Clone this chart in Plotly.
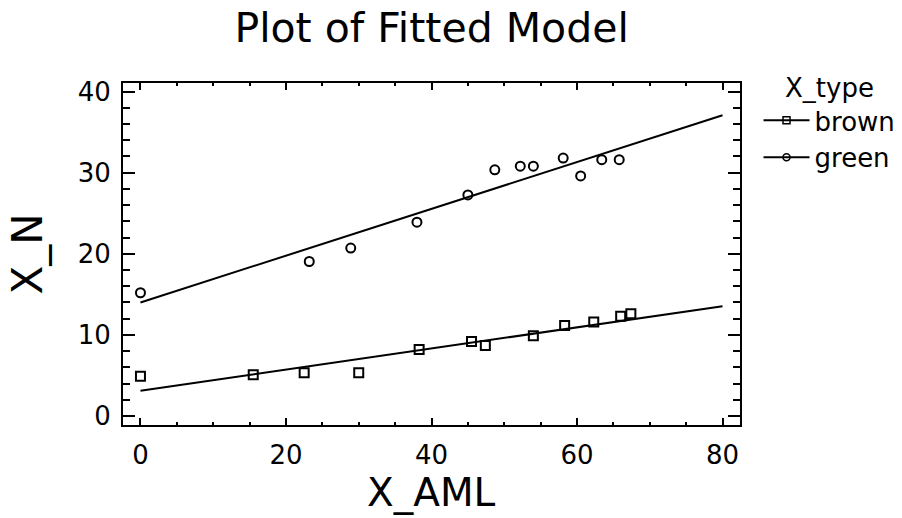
import plotly.graph_objects as go

# Data
aml_brown = [0, 15.5, 22.5, 30.0, 38.3, 45.5, 47.4, 54.0, 58.3, 62.3, 66.0, 67.4]
n_brown = [4.9, 5.1, 5.35, 5.35, 8.2, 9.2, 8.7, 9.9, 11.15, 11.6, 12.3, 12.6]
aml_green = [0, 23.2, 28.9, 38.0, 45.0, 48.7, 52.2, 54.0, 58.1, 60.5, 63.4, 65.8]
n_green = [15.2, 19.05, 20.7, 23.9, 27.25, 30.35, 30.8, 30.8, 31.8, 29.6, 31.6, 31.6]
fit_x = [0, 80]
fit_brown = [3.12, 13.54]
fit_green = [14.0, 37.07]
x_ticks = [0, 20, 40, 60, 80]
y_ticks = [0, 10, 20, 30, 40]

FONT = "DejaVu Sans, Liberation Sans, sans-serif"
BLACK = "black"

fig = go.Figure()
fig.add_trace(go.Scatter(x=fit_x, y=fit_brown, mode="lines", line=dict(color=BLACK, width=2),
                         showlegend=False, hoverinfo="skip"))
fig.add_trace(go.Scatter(x=fit_x, y=fit_green, mode="lines", line=dict(color=BLACK, width=2),
                         showlegend=False, hoverinfo="skip"))
fig.add_trace(go.Scatter(x=aml_brown, y=n_brown, mode="markers",
                         marker=dict(symbol="square-open", size=9, color=BLACK, line=dict(width=2, color=BLACK)),
                         showlegend=False))
fig.add_trace(go.Scatter(x=aml_green, y=n_green, mode="markers",
                         marker=dict(symbol="circle-open", size=9, color=BLACK, line=dict(width=2, color=BLACK)),
                         showlegend=False))
# legend entries (line + marker)
fig.add_trace(go.Scatter(x=[None], y=[None], mode="lines+markers", name="brown",
                         line=dict(color=BLACK, width=2),
                         marker=dict(symbol="square-open", size=7, color=BLACK, line=dict(width=1.5, color=BLACK))))
fig.add_trace(go.Scatter(x=[None], y=[None], mode="lines+markers", name="green",
                         line=dict(color=BLACK, width=2),
                         marker=dict(symbol="circle-open", size=7, color=BLACK, line=dict(width=1.5, color=BLACK))))

axis_common = dict(
    showline=True, linewidth=2, linecolor=BLACK, mirror="allticks",
    ticks="inside", tickwidth=2, tickcolor=BLACK,
    showgrid=False, zeroline=False,
    tickfont=dict(family=FONT, size=26, color=BLACK),
)

fig.update_layout(
    width=902, height=518,
    paper_bgcolor="white", plot_bgcolor="white",
    margin=dict(l=123, r=162, t=83, b=93, autoexpand=False),
    font=dict(family=FONT, color=BLACK),
    title=dict(text="Plot of Fitted Model", x=0.4785, xanchor="center",
               y=0.946, yanchor="middle", yref="container",
               font=dict(family=FONT, size=41, color=BLACK)),
    xaxis=dict(range=[-2.4, 82.4], tickmode="array", tickvals=x_ticks, ticklen=7,
               minor=dict(ticks="inside", dtick=5, tick0=0, ticklen=3, tickwidth=2, tickcolor=BLACK),
               ticklabelstandoff=6, automargin=False,
               **axis_common),
    yaxis=dict(range=[-1.1, 41.05], tickmode="array", tickvals=y_ticks, ticklen=12,
               minor=dict(ticks="inside", dtick=2, tick0=0, ticklen=7, tickwidth=2, tickcolor=BLACK),
               title=dict(text="X_N", font=dict(family=FONT, size=42, color=BLACK), standoff=22),
               ticklabelstandoff=5, automargin=False,
               **axis_common),
    legend=dict(x=1.03, xanchor="left", y=1.058, yanchor="top",
                title=dict(text="X_type", side="top center", font=dict(family=FONT, size=26, color=BLACK)),
                font=dict(family=FONT, size=26, color=BLACK),
                itemwidth=46, bgcolor="rgba(0,0,0,0)"),
    showlegend=True,
    annotations=[dict(text="X_AML", xref="paper", yref="paper", x=0.5, y=-0.196,
                      xanchor="center", yanchor="middle", showarrow=False,
                      font=dict(family=FONT, size=39, color=BLACK))],
)

fig.write_html("out.html")
